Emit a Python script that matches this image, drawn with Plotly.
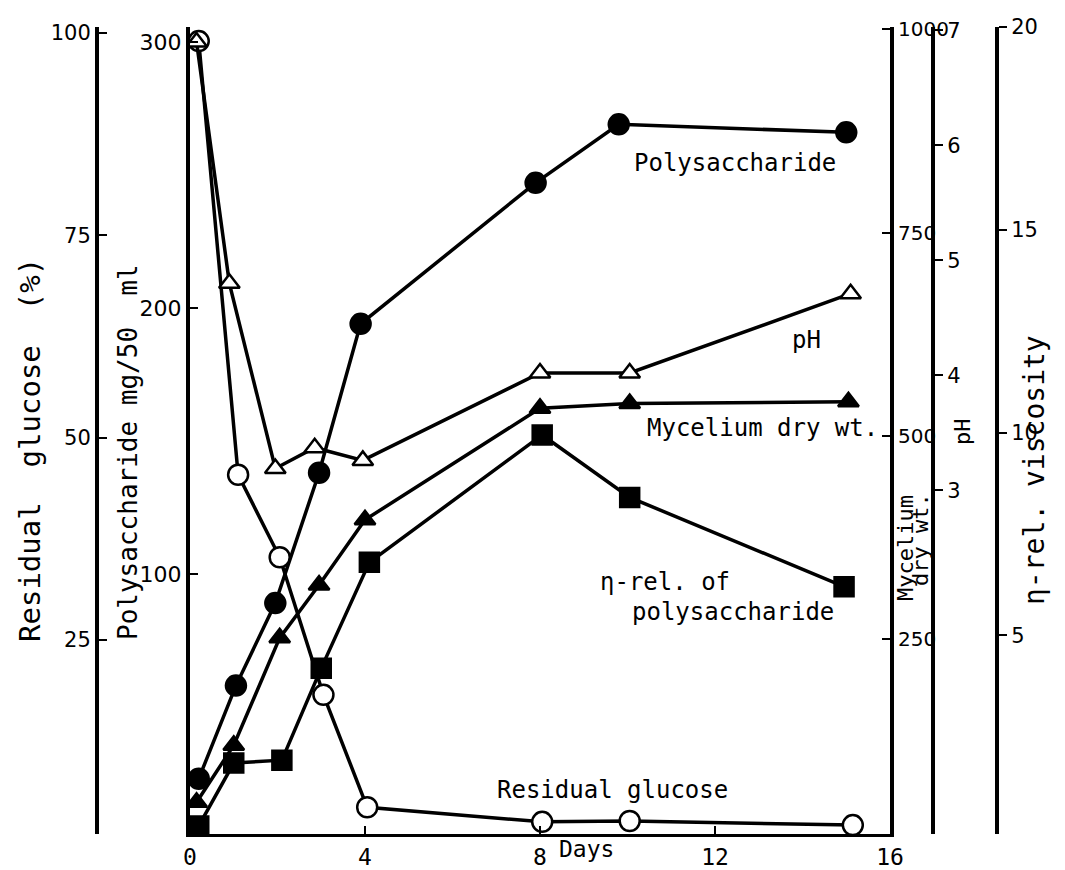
import plotly.graph_objects as go

# ---------------- data ----------------
poly_days = [0.2, 1.05, 1.95, 2.95, 3.9, 7.9, 9.8, 15.0]
polysaccharide = [23, 58, 89, 138, 194, 247, 269, 266]          # mg/50 ml

glu_days = [0.2, 1.1, 2.05, 3.05, 4.05, 8.05, 10.05, 15.15]
glucose = [99, 45.4, 35.2, 18.2, 4.3, 2.5, 2.6, 2.1]            # %

ph_days = [0.15, 0.9, 1.95, 2.85, 3.95, 8.0, 10.05, 15.1]
ph = [6.9, 4.8, 3.19, 3.37, 3.26, 4.02, 4.02, 4.71]

myc_days = [0.15, 1.0, 2.05, 2.95, 4.0, 8.0, 10.05, 15.05]
mycelium = [50, 120, 252, 317, 397, 534, 540, 542]

visc_days = [0.2, 1.0, 2.1, 3.0, 4.1, 8.05, 10.05, 14.95]
viscosity = [0.3, 1.85, 1.92, 4.19, 6.8, 9.94, 8.4, 6.2]

x_ticks = [0, 4, 8, 12, 16]
glu_ticks = [25, 50, 75, 100]
poly_ticks = [100, 200, 300]
myc_ticks = [250, 500, 750, 1000]
ph_ticks = [3, 4, 5, 6, 7]
visc_ticks = [5, 10, 15, 20]

# ---------------- layout geometry ----------------
W, H = 1065, 870
ML, MR, MT, MB = 97, 68, 27, 36
PW, PH = W - ML - MR, H - MT - MB


def px(xp):
    return (xp - ML) / PW


def py(yp):
    return (H - MB - yp) / PH


MONO = "DejaVu Sans Mono"
SANS = "DejaVu Sans"
LINE = dict(color="black", width=3.5)

fig = go.Figure()


def add(xs, ys, yax, symbol, fill, size):
    fig.add_trace(go.Scatter(
        x=xs, y=ys, yaxis=yax, mode="lines+markers",
        line=LINE,
        marker=dict(symbol=symbol, size=size, color=fill,
                    line=dict(color="black", width=2.5)),
        showlegend=False, hoverinfo="skip"))


add(myc_days, mycelium, "y3", "triangle-up", "black", 18)
add(visc_days, viscosity, "y5", "square", "black", 19)
add(poly_days, polysaccharide, "y", "circle", "black", 20)
add(ph_days, ph, "y4", "triangle-up", "white", 18)
add(glu_days, glucose, "y2", "circle", "white", 20)

axis_common = dict(showgrid=False, zeroline=False, showline=True, automargin=False,
                   linecolor="black", linewidth=4, ticklen=8, tickwidth=2,
                   tickcolor="black")

fig.update_layout(
    template="none",
    width=W, height=H,
    margin=dict(l=ML, r=MR, t=MT, b=MB, autoexpand=False),
    paper_bgcolor="white", plot_bgcolor="white",
    xaxis=dict(domain=[px(190), px(890)], range=[0, 16],
               tickvals=x_ticks, ticks="inside", **{**axis_common, "linewidth": 3},
               tickfont=dict(family=MONO, size=23, color="black"),
               ticklabelstandoff=0, anchor="y"),
    yaxis=dict(range=[2.2, 305.6], tickvals=poly_ticks, ticks="inside",
               side="left", tickfont=dict(family=SANS, size=22, color="black"),
               anchor="x", **axis_common),
    yaxis2=dict(range=[1.0, 100.74], tickvals=glu_ticks, ticks="inside",
                overlaying="y", anchor="free", position=0, side="left",
                tickfont=dict(family=SANS, size=21, color="black"), **axis_common),
    yaxis3=dict(range=[11.0, 1002.5], tickvals=myc_ticks, ticks="inside",
                overlaying="y", anchor="x", side="right",
                tickfont=dict(family=SANS, size=20, color="black"),
                ticklabelstandoff=0, **axis_common),
    yaxis4=dict(range=[0.01, 7.03], tickvals=ph_ticks, ticks="outside",
                overlaying="y", anchor="free", position=px(933), side="right",
                tickfont=dict(family=SANS, size=21, color="black"), **axis_common),
    yaxis5=dict(range=[0.1, 20.0], tickvals=visc_ticks, ticks="outside",
                overlaying="y", anchor="free", position=1.0, side="right",
                tickfont=dict(family=SANS, size=21, color="black"), **axis_common),
)

ann = [
    dict(text="Polysaccharide", x=px(632), y=py(163), size=24),
    dict(text="pH", x=px(790), y=py(340), size=24),
    dict(text="Mycelium dry wt.", x=px(645), y=py(428), size=24),
    dict(text="η-rel. of", x=px(598), y=py(582), size=24),
    dict(text="polysaccharide", x=px(630), y=py(612), size=24),
    dict(text="Residual glucose", x=px(495), y=py(790), size=24),
    dict(text="Days", x=px(557), y=py(849), size=23),
]
for a in ann:
    fig.add_annotation(text=a["text"], x=a["x"], y=a["y"], xref="paper", yref="paper",
                       xanchor="left", yanchor="middle", showarrow=False,
                       font=dict(family=MONO, size=a["size"], color="black"))

rot = [
    dict(text="Residual  glucose  (%)", x=30, y=450, size=29),
    dict(text="Polysaccharide mg/50  ml", x=128, y=452, size=26),
    dict(text="Mycelium", x=905, y=548, size=22),
    dict(text="dry wt.", x=920, y=540, size=22),
    dict(text="pH", x=963, y=432, size=22),
    dict(text="η-rel. viscosity", x=1035, y=470, size=28),
]
for a in rot:
    fig.add_annotation(text=a["text"], x=px(a["x"]), y=py(a["y"]), xref="paper", yref="paper",
                       xanchor="center", yanchor="middle", showarrow=False, textangle=-90,
                       font=dict(family=MONO, size=a["size"], color="black"))

fig.write_html("out.html", config={"displayModeBar": False},
               post_script="document.body.style.margin='0';")
